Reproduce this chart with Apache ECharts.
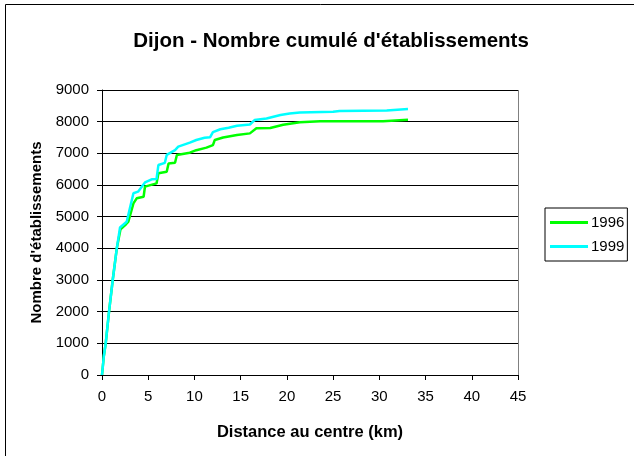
<!DOCTYPE html>
<html>
	<head>
		<meta charset="utf-8" />
		<title>Dijon</title>
		<style>
			body { margin: 0; background: #fff; }
			#chartmain { width: 634px; height: 456px; }
		</style>
	</head>
	<body>
		<div id="chartmain"></div>
		<script type="text/javascript" src="https://cdn.jsdelivr.net/npm/echarts@6/dist/echarts.min.js"></script>
		<script type="text/javascript">
			// distance au centre (km) et nombre cumulé
			var km1996 = [0, 0.2, 0.4, 0.76, 1.16, 1.6, 2.0, 2.6, 2.85, 3.4, 3.75, 4.5, 4.65, 5.9, 6.1, 7.0, 7.2, 7.9, 8.1, 9.5, 10.2, 11.3, 12.0, 12.2, 13.1, 14.6, 16.0, 16.7, 18.2, 19.6, 21.4, 23.6, 30.4, 30.6, 33.1];
			var n1996 = [0, 600, 1000, 2000, 3000, 4000, 4600, 4760, 4840, 5420, 5580, 5630, 5950, 6050, 6370, 6420, 6680, 6700, 6950, 7020, 7100, 7180, 7260, 7420, 7500, 7580, 7630, 7790, 7800, 7900, 7980, 8010, 8010, 8060, 8060];
			var km1999 = [0, 0.2, 0.4, 0.76, 1.16, 1.6, 1.95, 2.67, 3.4, 3.9, 4.65, 5.37, 5.9, 6.1, 6.8, 7.0, 7.9, 8.25, 9.5, 10.2, 11.1, 11.7, 12.0, 12.8, 13.7, 14.6, 16.0, 16.5, 17.8, 19.3, 20.3, 21.4, 25.0, 25.7, 30.8, 31.0, 33.1];
			var n1999 = [0, 600, 1000, 2000, 3000, 4000, 4660, 4840, 5740, 5790, 6080, 6180, 6190, 6630, 6700, 6950, 7100, 7210, 7340, 7420, 7490, 7510, 7670, 7760, 7810, 7870, 7910, 8050, 8100, 8210, 8260, 8290, 8310, 8340, 8350, 8400, 8400];
			var years = ['1996', '1999'];

			var pairs = function(xs, ys) {
				var out = [];
				for(var i = 0; i < xs.length; i++) {
					out.push([xs[i], ys[i]]);
				};
				return out;
			};

			var font = 'Liberation Sans, Arial, sans-serif';

			var option = {
				animation: false,
				title: {
					text: "Dijon - Nombre cumulé d'établissements",
					left: 326,
					top: 26,
					textAlign: 'center',
					textStyle: { fontFamily: font, fontSize: 20.5, fontWeight: 'bold', color: '#000' }
				},
				legend: {
					orient: 'vertical',
					left: 545,
					top: 208,
					data: years,
					icon: 'rect',
					itemWidth: 38,
					itemHeight: 3,
					itemGap: 9,
					padding: [7, 3, 7, 5],
					borderColor: '#000',
					borderWidth: 1,
					borderRadius: 0,
					textStyle: { fontFamily: font, fontSize: 15, color: '#000', padding: [0, 0, 0, -2] }
				},
				graphic: [{
					type: 'rect',
					shape: { x: 5.5, y: 4.5, width: 640, height: 470 },
					style: { fill: 'none', stroke: '#000', lineWidth: 1 },
					silent: true
				}, {
					type: 'line',
					shape: { x1: 518.5, y1: 90, x2: 518.5, y2: 375 },
					style: { stroke: '#808080', lineWidth: 1 },
					silent: true
				}],
				grid: { left: 102, right: 116, top: 90, bottom: 81 },
				xAxis: {
					type: 'value',
					min: 0,
					max: 45,
					interval: 5,
					name: 'Distance au centre (km)',
					nameLocation: 'middle',
					nameGap: 49,
					nameTextStyle: { fontFamily: font, fontSize: 16.5, fontWeight: 'bold', color: '#000' },
					axisLine: { lineStyle: { color: '#000', width: 1 } },
					axisTick: { show: true, inside: false, length: 5, lineStyle: { color: '#000' } },
					axisLabel: { fontFamily: font, fontSize: 15, color: '#000', margin: 14 },
					splitLine: { show: false }
				},
				yAxis: {
					type: 'value',
					min: 0,
					max: 9000,
					interval: 1000,
					name: "Nombre d'établissements",
					nameLocation: 'middle',
					nameGap: 58,
					nameTextStyle: { fontFamily: font, fontSize: 15, fontWeight: 'bold', color: '#000' },
					axisLine: { show: true, lineStyle: { color: '#000', width: 1 } },
					axisTick: { show: true, inside: false, length: 5, lineStyle: { color: '#000' } },
					axisLabel: {
						fontFamily: font, fontSize: 15, color: '#000', margin: 13,
						formatter: function(v) { return String(v); }
					},
					splitLine: { show: true, lineStyle: { color: '#000', width: 1 } }
				},
				series: [{
					name: years[0],
					type: 'line',
					data: pairs(km1996, n1996),
					showSymbol: false,
					symbol: 'none',
					lineStyle: { color: '#00ff00', width: 2.5 },
					itemStyle: { color: '#00ff00' },
					z: 2
				}, {
					name: years[1],
					type: 'line',
					data: pairs(km1999, n1999),
					showSymbol: false,
					symbol: 'none',
					lineStyle: { color: '#00ffff', width: 2.5 },
					itemStyle: { color: '#00ffff' },
					z: 3
				}]
			};
			//初始化echarts实例
			var myChart = echarts.init(document.getElementById('chartmain'));
			myChart.setOption(option);
		</script>
	</body>
</html>
